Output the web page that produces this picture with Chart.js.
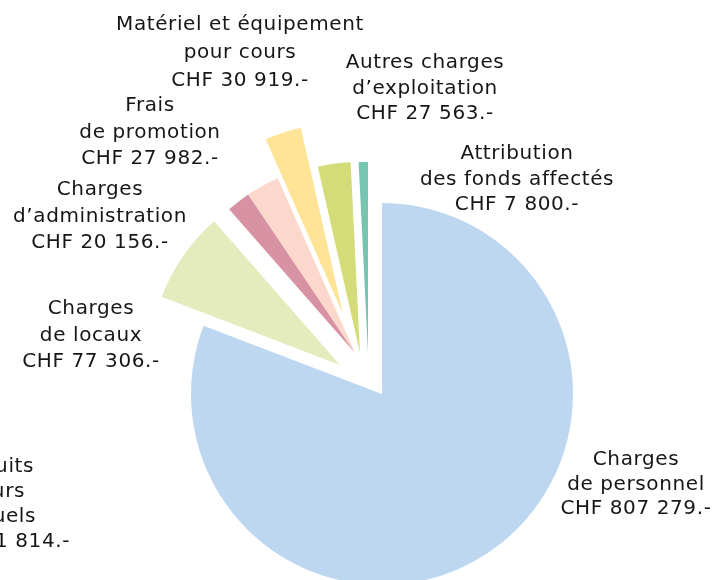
<!DOCTYPE html>
<html>
<head>
<meta charset="utf-8">
<script src="https://cdn.jsdelivr.net/npm/chart.js@4"></script>
<style>
  body { margin: 0; background: #fff; }
  #wrap { position: relative; width: 717px; height: 580px; overflow: hidden; }
  #chart { position: absolute; left: 0; top: 0; }
  .lbl { position: absolute; white-space: nowrap; font-family: "DejaVu Sans", sans-serif;
         font-size: 20px; letter-spacing: 0.6px; color: #161616; }
  .lbl div { position: absolute; transform: translate(-50%, -50%); }
  .lbl.right div { transform: translate(-100%, -50%); }
</style>
</head>
<body>
<div id="wrap">
  <canvas id="chart" width="717" height="580"></canvas>
</div>
<script>
const categories = [
    'Charges de personnel',
    'Charges de locaux',
    'Charges d’administration',
    'Frais de promotion',
    'Matériel et équipement pour cours',
    'Autres charges d’exploitation',
    'Attribution des fonds affectés'
];
const amounts = [807279, 77306, 20156, 27982, 30919, 27563, 7800];
const colors = ['#bdd7f1', '#e4ebbc', '#d793a3', '#fcd7cb', '#ffe497', '#d3dc78', '#77c4b0'];
// how far each slice is pulled out of the pie (px)
const explodeX = [0, -42, -27, -27, -39, -22, -14];
const explodeY = [0, -29, -41, -41, -80, -41, -41];

// label text, split on lines as in the report
const labelLines = [
    ['Charges', 'de personnel'],
    ['Charges', 'de locaux'],
    ['Charges', 'd’administration'],
    ['Frais', 'de promotion'],
    ['Matériel et équipement', 'pour cours'],
    ['Autres charges', 'd’exploitation'],
    ['Attribution', 'des fonds affectés']
];
// label placement: centre x, centre y of first line, line spacing
const labelPos = [
    [636, 458, 24.5],
    [91, 307, 26.5],
    [100, 188, 26.5],
    [150, 104, 26.5],
    [240, 23, 28],
    [425, 61, 25.5],
    [517, 152, 25.5]
];

const fmt = n => 'CHF ' + String(n).replace(/\B(?=(\d{3})+(?!\d))/g, ' ') + '.-';

const wrap = document.getElementById('wrap');
labelLines.forEach((lines, i) => {
    const [x, y, lh] = labelPos[i];
    const box = document.createElement('div');
    box.className = 'lbl';
    lines.concat([fmt(amounts[i])]).forEach((t, k) => {
        const line = document.createElement('div');
        line.textContent = t;
        line.style.left = x + 'px';
        line.style.top = (y + k * lh) + 'px';
        box.appendChild(line);
    });
    wrap.appendChild(box);
});

// leftover label cut by the left border of the page
const cutLines = ['Produits', 'cours', 'annuels', 'CHF 1 814.-'];
const cutRight = [34, 25, 36, 70];
const cutBox = document.createElement('div');
cutBox.className = 'lbl right';
cutLines.forEach((t, k) => {
    const line = document.createElement('div');
    line.textContent = t;
    line.style.left = cutRight[k] + 'px';
    line.style.top = (465 + k * 25) + 'px';
    cutBox.appendChild(line);
});
wrap.appendChild(cutBox);

// pull slices out without the angle trimming that the built-in offset does
const explode = {
    id: 'explode',
    afterDatasetsUpdate(chart) {
        chart.getDatasetMeta(0).data.forEach((arc, i) => {
            arc.x += explodeX[i];
            arc.y += explodeY[i];
        });
    }
};

new Chart(document.getElementById('chart'), {
    type: 'pie',
    data: {
        labels: categories,
        datasets: [{
            data: amounts,
            backgroundColor: colors,
            borderWidth: 0,
            hoverOffset: 0
        }]
    },
    options: {
        responsive: false,
        animation: false,
        devicePixelRatio: 1,
        radius: 191,
        layout: { padding: { left: 47, right: 0, top: 208, bottom: 0 } },
        plugins: {
            legend: { display: false },
            tooltip: { enabled: false }
        },
        events: []
    },
    plugins: [explode]
});
</script>
</body>
</html>
